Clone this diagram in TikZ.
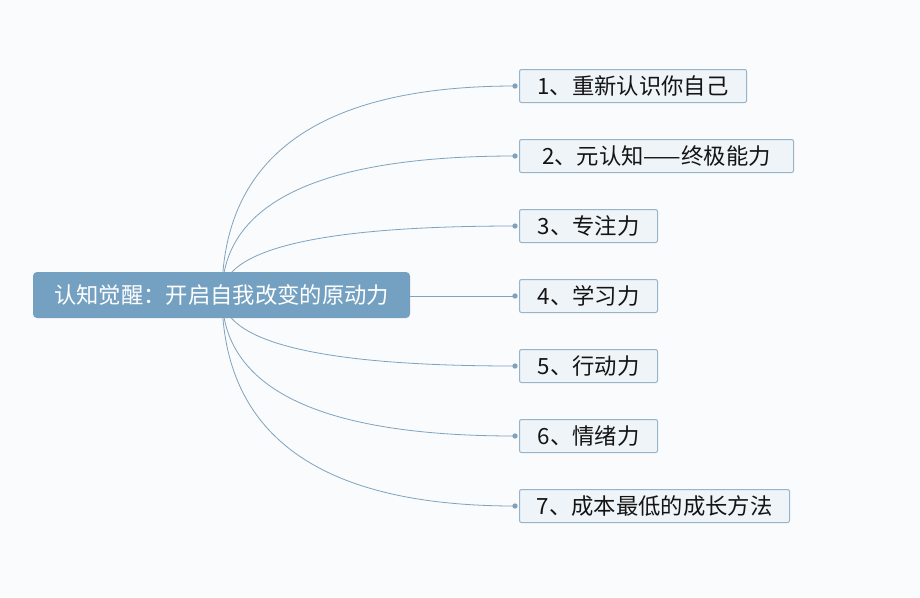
\documentclass[tikz,border=0pt]{standalone}
\usepackage{fontspec}
\setmainfont{Noto Sans CJK SC}
\definecolor{bgc}{HTML}{FAFBFC}
\definecolor{mainfill}{HTML}{74A1C1}
\definecolor{subfill}{HTML}{EFF4F8}
\definecolor{subline}{HTML}{97B4CB}
\definecolor{linkc}{HTML}{7FA3BF}
\definecolor{txt}{HTML}{141414}
\tikzset{
  mainbox/.style={draw=none, fill=mainfill, rounded corners=3pt, text=white, font=\fontsize{16.75pt}{20pt}\selectfont, inner sep=0pt, minimum width=282.75pt, minimum height=34.5pt},
  subbox/.style={draw=subline, line width=0.75pt, fill=subfill, rounded corners=1.5pt, text=txt, font=\fontsize{16.75pt}{20pt}\selectfont, inner sep=0pt, minimum height=24.75pt, anchor=west},
  link/.style={draw=linkc, line width=0.6pt},
  enddot/.style={circle, fill=linkc, inner sep=0pt, minimum size=4pt}
}
\begin{document}
\begin{tikzpicture}[x=0.75pt,y=-0.75pt]
\fill[bgc] (0,0) rectangle (920,597);
\useasboundingbox (0,0) rectangle (920,597);
\coordinate (o) at (222,295);
\foreach \i/\y in {1/86,2/156,3/226,4/296,5/366,6/436,7/506}{
  \coordinate (d\i) at (515,\y);
}
% curves
\foreach \i/\y in {1/86,2/156,3/226,5/366,6/436,7/506}{
  \pgfmathsetmacro{\cy}{295+2/3*(\y-295)}
  \draw[link] (o) .. controls (222,\cy) and (320,\y) .. (d\i);
}
\node[mainbox] (c) at (221.5,295) {认知觉醒：开启自我改变的原动力};
\draw[link] (c.east |- d4) -- (d4);
\node[subbox, minimum width=170.25pt] (n1) at (519,86) {1、重新认识你自己};
\node[subbox, minimum width=205.5pt] (n2) at (519,156) {2、元认知——终极能力};
\node[subbox, minimum width=103.5pt] (n3) at (519,226) {3、专注力};
\node[subbox, minimum width=103.5pt] (n4) at (519,296) {4、学习力};
\node[subbox, minimum width=103.5pt] (n5) at (519,366) {5、行动力};
\node[subbox, minimum width=103.5pt] (n6) at (519,436) {6、情绪力};
\node[subbox, minimum width=202.5pt] (n7) at (519,506) {7、成本最低的成长方法};
\foreach \i in {1,...,7}{ \node[enddot] at (d\i) {}; }
\end{tikzpicture}
\end{document}
